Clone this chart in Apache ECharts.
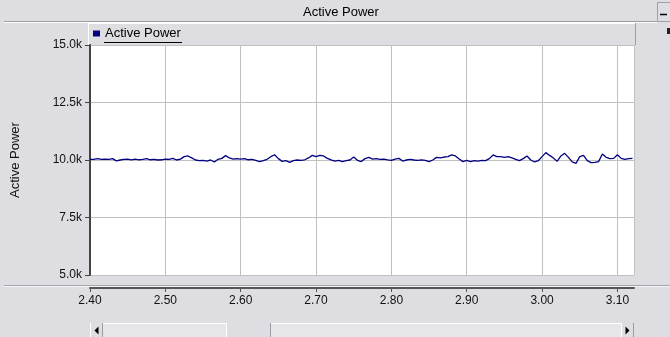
<!DOCTYPE html>
<html>
<head>
<meta charset="utf-8">
<script src="https://cdn.jsdelivr.net/npm/echarts@6/dist/echarts.min.js"></script>
<style>
html,body{margin:0;padding:0;background:#dddde2;}
#c{width:670px;height:337px;}
</style>
</head>
<body>
<div id="c"></div>
<script>
const chartTitle = 'Active Power';
const seriesName = 'Active Power';
const yAxisName = 'Active Power';
const xs = [
2.400,2.405,2.410,2.415,2.420,2.425,2.430,2.435,2.440,2.445,
2.450,2.455,2.460,2.465,2.470,2.475,2.480,2.485,2.490,2.495,
2.500,2.505,2.510,2.515,2.520,2.525,2.530,2.535,2.540,2.545,
2.550,2.555,2.560,2.565,2.570,2.575,2.580,2.585,2.590,2.595,
2.600,2.605,2.610,2.615,2.620,2.625,2.630,2.635,2.640,2.645,
2.650,2.655,2.660,2.665,2.670,2.675,2.680,2.685,2.690,2.695,
2.700,2.705,2.710,2.715,2.720,2.725,2.730,2.735,2.740,2.745,
2.750,2.755,2.760,2.765,2.770,2.775,2.780,2.785,2.790,2.795,
2.800,2.805,2.810,2.815,2.820,2.825,2.830,2.835,2.840,2.845,
2.850,2.855,2.860,2.865,2.870,2.875,2.880,2.885,2.890,2.895,
2.900,2.905,2.910,2.915,2.920,2.925,2.930,2.935,2.940,2.945,
2.950,2.955,2.960,2.965,2.970,2.975,2.980,2.985,2.990,2.995,
3.000,3.005,3.010,3.015,3.020,3.025,3.030,3.035,3.040,3.045,
3.050,3.055,3.060,3.065,3.070,3.075,3.080,3.085,3.090,3.095,
3.100,3.105,3.110,3.115,3.120
];
const ys = [
10030,10030,10060,10030,10040,10030,10060,9960,10000,10030,
10040,10010,10040,10010,10030,10060,10010,10030,10000,10010,
10040,10030,10070,10000,10040,10145,10175,10090,10000,9970,
9985,9955,10000,9915,10030,10070,10190,10090,10040,10060,
10040,10060,10010,10030,9985,9930,9970,10030,10145,10230,
10060,9940,9970,9900,9970,10000,9985,10010,10090,10200,
10145,10200,10175,10070,10010,9955,9985,9930,9970,10000,
10130,9985,9930,10060,10115,10040,10060,10030,10040,10010,
9985,10040,10070,9955,10000,10030,10000,9985,10010,9985,
9930,10000,10115,10090,10130,10145,10220,10175,10040,9930,
9985,9930,9970,9955,9985,9970,10060,10220,10145,10145,
10115,10145,10090,10030,9970,10060,10175,10000,9915,9970,
10145,10320,10200,10090,9940,10175,10290,10115,9915,9855,
10145,10200,9970,9885,9900,9930,10260,10115,10060,10070,
10230,10070,10030,10060,10070
];
const xMin = 2.4, xMax = 3.122, xStep = 0.1;
const yMin = 5000, yMax = 15000, yStep = 2500;

const FONT = '"Liberation Sans", Arial, sans-serif';
const BG = '#dddde2';
const chart = echarts.init(document.getElementById('c'), null, {renderer:'canvas'});

function ln(x1,y1,x2,y2,color,w){
  return {type:'line', shape:{x1,y1,x2,y2}, style:{stroke:color, lineWidth:w||1}, silent:true};
}
function tri(cx,cy,dir){
  const p = dir<0 ? [[cx+2,cy-4],[cx+2,cy+4],[cx-2,cy]] : [[cx-2,cy-4],[cx-2,cy+4],[cx+2,cy]];
  return {type:'polygon', shape:{points:p}, style:{fill:'#000'}, silent:true};
}

const graphics = [
  {type:'text', x:341, y:12, style:{text:chartTitle, font:'13px '+FONT, fill:'#000', textAlign:'center', textVerticalAlign:'middle'}},
  ln(4,21.5,657,21.5,'#9c9ca4'),
  ln(4,22.5,657,22.5,'#ffffff'),
  {type:'rect', shape:{x:657.5,y:2.5,width:13,height:19}, style:{fill:BG, stroke:'#a0a0a8'}},
  ln(660,14.5,667,14.5,'#000',1.5),
  {type:'rect', shape:{x:667,y:28,width:3,height:6}, style:{fill:'#222'}},
  {type:'rect', shape:{x:88,y:23,width:548,height:22}, style:{fill:BG}},
  ln(88.5,23,88.5,45,'#ffffff'),
  ln(88,23.5,636,23.5,'#ffffff'),
  ln(635.5,23,635.5,45,'#9c9ca4'),
  ln(104,42.5,182,42.5,'#000'),
  ln(4,285.5,670,285.5,'#a4a4ac'),
  ln(4,286.5,670,286.5,'#f4f4f6'),
  {type:'rect', shape:{x:90,y:323,width:544,height:14}, style:{fill:'#e6e6ea'}},
  ln(90,323.5,634,323.5,'#ffffff'),
  {type:'rect', shape:{x:90,y:323,width:13,height:14}, style:{fill:BG}},
  ln(90.5,323,90.5,337,'#ffffff'),
  ln(102.5,323,102.5,337,'#9c9ca4'),
  tri(96.5,330.5,-1),
  {type:'rect', shape:{x:226,y:323,width:45,height:14}, style:{fill:BG}},
  ln(226.5,323,226.5,337,'#ffffff'),
  ln(270.5,323,270.5,337,'#9c9ca4'),
  {type:'rect', shape:{x:621,y:323,width:13,height:14}, style:{fill:BG}},
  ln(621.5,323,621.5,337,'#ffffff'),
  ln(633.5,323,633.5,337,'#9c9ca4'),
  tri(627.5,330.5,1)
];

const option = {
  backgroundColor: BG,
  animation: false,
  textStyle: {fontFamily: FONT},
  graphic: {elements: graphics},
  legend: {
    data: [seriesName],
    left: 93, top: 27, padding: 0,
    icon: 'rect', itemWidth: 7, itemHeight: 6,
    textStyle: {fontSize: 13, color: '#000', fontFamily: FONT},
    selectedMode: false
  },
  grid: {left: 90, top: 45, width: 544, height: 230, backgroundColor:'#ffffff', show:true, borderWidth:0,
         containLabel:false, outerBoundsMode:'none'},
  xAxis: {
    type: 'value', min: xMin, max: xMax, interval: xStep, offset: 13,
    axisLine: {show:true, lineStyle:{color:'#555', width:2}},
    axisTick: {show:true, length:4, lineStyle:{color:'#555'}},
    axisLabel: {
      color:'#111', fontSize:12, margin:7, fontFamily: FONT,
      showMaxLabel: false,
      formatter: v => (Math.abs(v/xStep - Math.round(v/xStep)) < 1e-6 ? v.toFixed(2) : '')
    },
    splitLine: {show:true, lineStyle:{color:'#c0c0c0'}}
  },
  yAxis: {
    type: 'value', min: yMin, max: yMax, interval: yStep,
    name: yAxisName, nameLocation: 'middle', nameRotate: 90, nameGap: 68,
    nameTextStyle: {fontSize: 13, color:'#111', fontFamily: FONT},
    axisLine: {show:true, lineStyle:{color:'#444', width:2}},
    axisTick: {show:true, length:5, lineStyle:{color:'#444'}},
    axisLabel: {color:'#111', fontSize:12, margin:8, fontFamily: FONT,
      formatter: v => (v/1000).toFixed(1) + 'k'},
    splitLine: {show:true, lineStyle:{color:'#c0c0c0'}}
  },
  series: [{
    name: seriesName, type: 'line', showSymbol: false, symbol:'none',
    itemStyle: {color:'#000080'},
    lineStyle: {color:'#000080', width:1.3},
    data: xs.map((x,i)=>[x, ys[i]])
  }]
};
chart.setOption(option);
</script>
</body>
</html>
